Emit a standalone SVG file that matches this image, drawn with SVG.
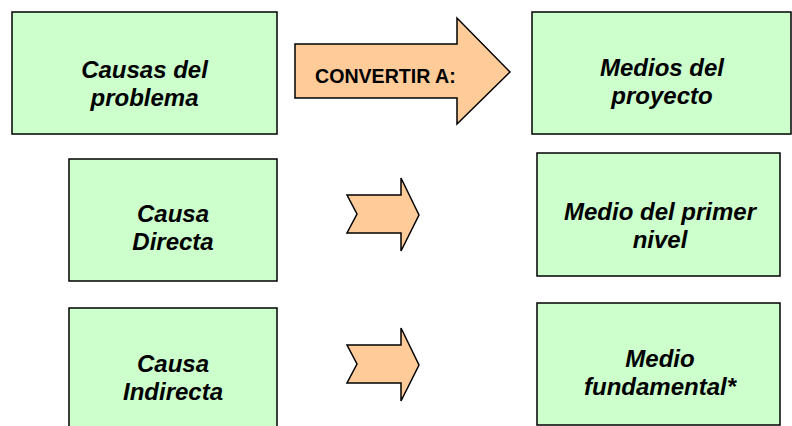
<svg xmlns="http://www.w3.org/2000/svg" width="792" height="426" viewBox="0 0 792 426">
<style>
.box{fill:#CCFFCC;stroke:#000;stroke-width:1.5}
.arr{fill:#FFCC99;stroke:#000;stroke-width:1.5;stroke-linejoin:miter}
.lbl{font-family:"Liberation Sans",Arial,sans-serif;font-weight:bold;font-style:italic;font-size:24px;fill:#000;text-anchor:middle}
.conv{font-family:"Liberation Sans",Arial,sans-serif;font-weight:bold;font-size:19.6px;fill:#000}
</style>
<rect width="792" height="426" fill="#fff"/>
<g id="connectors">
<g id="arrow-main">
<polygon class="arr" points="295,44 457,44 457,18 510,72 457,124 457,98 295,98"/>
<text class="conv" x="315" y="82.5">CONVERTIR A:</text>
</g>
<polygon id="arrow-1" class="arr" points="347,195 401,195 401,178 419,215 401,251 401,233 347,233 357,214"/>
<polygon id="arrow-2" class="arr" points="347,345 401,345 401,328 419,365 401,401 401,383 347,383 357,364"/>
</g>
<g id="causas">
<rect class="box" x="12" y="12" width="265" height="122"/>
<text class="lbl" x="144.5" y="78">Causas del</text>
<text class="lbl" x="144.5" y="106">problema</text>
</g>
<g id="medios">
<rect class="box" x="532" y="12" width="259" height="122"/>
<text class="lbl" x="662" y="76">Medios del</text>
<text class="lbl" x="662" y="104">proyecto</text>
</g>
<g id="causa-directa">
<rect class="box" x="69" y="159" width="208" height="122"/>
<text class="lbl" x="173" y="222">Causa</text>
<text class="lbl" x="173" y="250">Directa</text>
</g>
<g id="medio-primer-nivel">
<rect class="box" x="537" y="153" width="243" height="123"/>
<text class="lbl" x="660" y="220">Medio del primer</text>
<text class="lbl" x="660" y="248">nivel</text>
</g>
<g id="causa-indirecta">
<rect class="box" x="69" y="308" width="208" height="125"/>
<text class="lbl" x="173" y="372">Causa</text>
<text class="lbl" x="173" y="400">Indirecta</text>
</g>
<g id="medio-fundamental">
<rect class="box" x="537" y="303" width="243" height="122"/>
<text class="lbl" x="660" y="367">Medio</text>
<text class="lbl" x="660" y="395">fundamental*</text>
</g>
</svg>
